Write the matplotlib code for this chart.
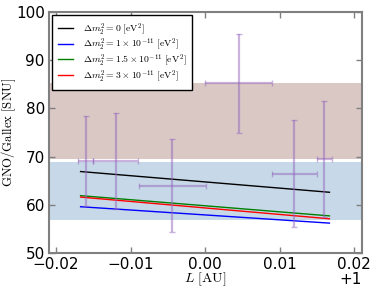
import matplotlib
matplotlib.use("Agg")
import matplotlib.pyplot as plt
from matplotlib.ticker import ScalarFormatter
import numpy as np

plt.rcParams['mathtext.fontset'] = 'cm'
plt.rcParams['font.family'] = 'DejaVu Sans'

# Data
band_gallex = (69.6, 85.2)
band_gno = (56.9, 68.9)

line_x = [-0.0167, 0.0167]
line_labels = [r'$\Delta m_2^2 = 0\ [\mathrm{eV}^2]$',
               r'$\Delta m_2^2 = 1\times10^{-11}\ [\mathrm{eV}^2]$',
               r'$\Delta m_2^2 = 1.5\times10^{-11}\ [\mathrm{eV}^2]$',
               r'$\Delta m_2^2 = 3\times10^{-11}\ [\mathrm{eV}^2]$']
line_colors = ['black', 'blue', 'green', 'red']
y_dm0 = [66.9, 62.6]
y_dm1 = [59.6, 56.2]
y_dm15 = [61.9, 57.7]
y_dm3 = [61.6, 57.1]

pt_x = [-0.0160, -0.0120, -0.0044, 0.0045, 0.0120, 0.0160]
pt_xerr = [0.0010, 0.0030, 0.0045, 0.0045, 0.0030, 0.0010]
pt_y = [69.1, 69.1, 64.0, 85.2, 66.4, 69.5]
pt_yerr = [9.4, 10.0, 9.6, 10.2, 11.1, 12.1]

fig = plt.figure(figsize=(3.74, 2.91), dpi=100)
ax = fig.add_axes([49/374, 1-253/291, (362-49)/374, (253-12)/291])

ax.axhspan(band_gallex[0], band_gallex[1], color='#8c564b', alpha=0.32, lw=0, zorder=0)
ax.axhspan(band_gno[0], band_gno[1], color='#4682b4', alpha=0.3, lw=0, zorder=0)

for ys, c, lab in zip([y_dm0, y_dm1, y_dm15, y_dm3], line_colors, line_labels):
    ax.plot(np.array(line_x) + 1, ys, color=c, lw=1.0, label=lab, zorder=2)

ax.errorbar(np.array(pt_x) + 1, pt_y, xerr=pt_xerr, yerr=pt_yerr, fmt='none',
            ecolor='#9467bd', alpha=0.5, elinewidth=1.6, capsize=2, capthick=1.0, zorder=3)

ax.set_xlim(1 - 0.02094, 1 + 0.02107)
ax.set_ylim(50, 100)
ax.set_yticks([50, 60, 70, 80, 90, 100])
ax.set_xticks(1 + np.array([-0.02, -0.01, 0.0, 0.01, 0.02]))
fmt = ScalarFormatter(useOffset=False)
fmt.offset = 1
ax.xaxis.set_major_formatter(fmt)
ax.xaxis.get_offset_text().set_fontsize(11)
ax.xaxis.OFFSETTEXTPAD = 0

for s in ax.spines.values():
    s.set_color('#808080')
    s.set_linewidth(1.5)
ax.tick_params(direction='in', top=True, right=True, color='#808080',
               length=4, width=1, labelsize=11, pad=3)

ax.set_xlabel(r'$L\ [\mathrm{AU}]$', fontsize=10, labelpad=-1)
ax.set_ylabel(r'$\mathrm{GNO/Gallex\ [SNU]}$', fontsize=9.2)
ax.yaxis.set_label_coords(-0.100, 0.5)

leg = ax.legend(loc='upper left', fontsize=7, frameon=True, fancybox=False,
                framealpha=1, edgecolor='black', borderaxespad=0.3,
                handlelength=1.6, handletextpad=1.0, labelspacing=0.0, borderpad=0.6)
leg.get_frame().set_linewidth(1.0)

fig.savefig('out.png', dpi=100)
